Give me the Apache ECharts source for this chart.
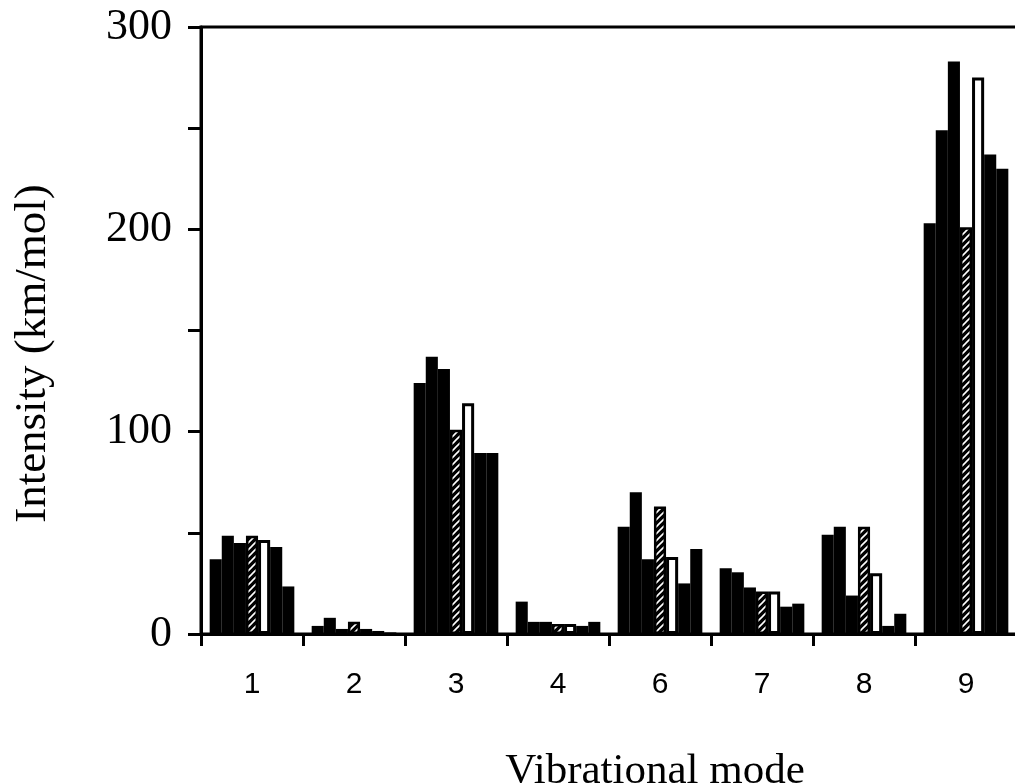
<!DOCTYPE html>
<html><head><meta charset="utf-8">
<script src="https://cdn.jsdelivr.net/npm/echarts@6/dist/echarts.min.js"></script>
<style>html,body{margin:0;padding:0;background:#fff}#c{width:1015px;height:783px}</style>
</head><body><div id="c"></div>
<script>
const categories = ['1','2','3','4','6','7','8','9'];
const bar1 = [37, 4, 124, 16, 53, 32.5, 49, 203];
const bar2 = [48.5, 8, 137, 6, 70, 30.5, 53, 249];
const bar3 = [45, 2.5, 131, 6, 37, 23, 19, 283];
const hatched = [48.5, 6, 101, 5, 63, 21, 53, 201];
const open = [46.5, 2.5, 114, 5, 38, 21, 30, 275];
const bar6 = [43, 1.5, 89.5, 4, 25, 13.5, 4, 237];
const bar7 = [23.5, 0.8, 89.5, 6, 42, 15, 10, 230];
const yTicks = [0, 100, 200, 300];

const pc = document.createElement('canvas');
pc.width = 7; pc.height = 7;
const g = pc.getContext('2d');
g.fillStyle = '#000'; g.fillRect(0,0,7,7);
g.strokeStyle = '#fff'; g.lineWidth = 1.6;
g.beginPath();
g.moveTo(0,7); g.lineTo(7,0);
g.moveTo(-1,1); g.lineTo(1,-1);
g.moveTo(6,8); g.lineTo(8,6);
g.stroke();

const chart = echarts.init(document.getElementById('c'), null, {renderer:'canvas'});
function blk(name, data){return {name, type:'bar', data, barGap:'0%', barCategoryGap:'17%', itemStyle:{color:'#000'}};}
chart.setOption({
  animation:false,
  grid:{left:201, right:-2, top:27, bottom:149, show:true, borderColor:'#000', borderWidth:3,
        backgroundColor:'transparent', containLabel:false, outerBoundsMode:'none'},
  xAxis:{type:'category', data:categories,
    name:'Vibrational mode', nameLocation:'middle', nameGap:116,
    nameTextStyle:{fontFamily:'Liberation Serif', fontSize:43, color:'#000', padding:[0,0,0,92]},
    axisLine:{lineStyle:{color:'#000', width:3}},
    axisTick:{show:true, length:12, lineStyle:{color:'#000', width:3}},
    axisLabel:{fontFamily:'Liberation Sans', fontSize:30, color:'#000', margin:36}},
  yAxis:{type:'value', min:0, max:300, interval:50,
    name:'Intensity (km/mol)', nameLocation:'middle', nameGap:145,
    nameTextStyle:{fontFamily:'Liberation Serif', fontSize:45, color:'#000', padding:[0,46,0,0]},
    axisLine:{show:true, lineStyle:{color:'#000', width:3}},
    axisTick:{show:true, length:13, lineStyle:{color:'#000', width:3}},
    splitLine:{show:false},
    axisLabel:{fontFamily:'Liberation Serif', fontSize:44, color:'#000', margin:29, padding:[12,0,0,0],
      formatter:v=> yTicks.indexOf(v)>=0 ? String(v) : ''}},
  series:[
    blk('a',bar1), blk('b',bar2), blk('c',bar3),
    {name:'h', type:'bar', data:hatched, barGap:'0%', barCategoryGap:'17%',
      itemStyle:{color:{image:pc, repeat:'repeat'}, borderColor:'#000', borderWidth:2.5}},
    {name:'o', type:'bar', data:open, barGap:'0%', barCategoryGap:'17%',
      itemStyle:{color:'#fff', borderColor:'#000', borderWidth:3}},
    blk('f',bar6), blk('g',bar7)
  ]
});
</script></body></html>
